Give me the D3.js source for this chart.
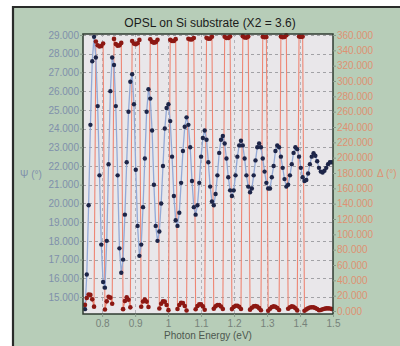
<!DOCTYPE html>
<html>
<head>
<meta charset="utf-8">
<script src="https://cdn.jsdelivr.net/npm/d3@7"></script>
<style>
  html, body { margin: 0; padding: 0; background: #ffffff; }
  svg { display: block; font-family: "Liberation Sans", Arial, sans-serif; }
</style>
</head>
<body>
<svg id="chart" width="400" height="346"></svg>
<script>
// Photon energy of each measured point (eV)
const energy = [
  0.748, 0.7535, 0.759, 0.7645, 0.770, 0.7755, 0.781, 0.7865, 0.792, 0.7975,
  0.803, 0.8085, 0.814, 0.8195, 0.825, 0.8305, 0.836, 0.8415, 0.847, 0.8525,
  0.858, 0.8635, 0.869, 0.8745, 0.880, 0.8855, 0.891, 0.8965, 0.902, 0.9075,
  0.913, 0.9185, 0.924, 0.9295, 0.935, 0.9405, 0.946, 0.9515, 0.957, 0.9625,
  0.968, 0.9735, 0.979, 0.9845, 0.990, 0.9955, 1.001, 1.0065, 1.012, 1.0175,
  1.023, 1.0285, 1.034, 1.0395, 1.045, 1.0505, 1.056, 1.0615, 1.067, 1.0725,
  1.078, 1.0835, 1.089, 1.0945, 1.100, 1.1055, 1.111, 1.1165, 1.122, 1.1275,
  1.133, 1.1385, 1.144, 1.1495, 1.155, 1.1605, 1.166, 1.1715, 1.177, 1.1825,
  1.188, 1.1935, 1.199, 1.2045, 1.210, 1.2155, 1.221, 1.2265, 1.232, 1.2375,
  1.243, 1.2485, 1.254, 1.2595, 1.265, 1.2705, 1.276, 1.2815, 1.287, 1.2925,
  1.298, 1.3035, 1.309, 1.3145, 1.320, 1.3255, 1.331, 1.3365, 1.342, 1.3475,
  1.353, 1.3585, 1.364, 1.3695, 1.375, 1.3805, 1.386, 1.3915, 1.397, 1.4025,
  1.408, 1.4135, 1.419, 1.4245, 1.430, 1.4355, 1.441, 1.4465, 1.452, 1.4575,
  1.463, 1.4685, 1.474, 1.4795, 1.485, 1.4905, 1.496
];

// Psi (degrees), left axis
const psi = [
  14.35, 16.2, 19.9, 24.2, 27.6, 28.9, 27.8, 25.2, 21.5, 17.8,
  15.8, 15.5, 18.0, 22.1, 26.0, 27.8, 27.4, 25.2, 21.5, 17.6,
  16.3, 17.0, 19.4, 22.2, 24.9, 26.5, 26.9, 25.3, 21.8, 18.8,
  17.2, 17.8, 19.8, 22.4, 24.9, 26.1, 25.6, 23.9, 21.0, 18.8,
  18.0, 18.5, 20.0, 22.0, 24.0, 25.1, 25.3, 24.4, 22.5, 20.4,
  19.1, 18.8, 19.5, 21.1, 22.8, 24.1, 24.6, 24.2, 23.0, 21.2,
  19.8, 19.4, 19.9, 21.1, 22.5, 23.5, 23.9, 23.4, 22.2, 20.9,
  20.1, 19.9, 20.5, 21.5, 22.7, 23.4, 23.6, 23.2, 22.4, 21.4,
  20.7, 20.4, 20.7, 21.5, 22.5, 23.1, 23.35, 23.1, 22.4, 21.5,
  20.9, 20.6, 20.8, 21.5, 22.3, 23.0, 23.2, 23.0, 22.4, 21.7,
  21.1, 20.8, 20.8, 21.4, 22.0, 22.8, 23.1, 23.0, 22.5, 21.9,
  21.3, 20.9, 21.0, 21.5, 22.1, 22.7, 23.0, 22.9, 22.5, 21.9,
  21.4, 21.2, 21.25, 21.6, 22.1, 22.5, 22.68, 22.55, 22.25, 21.9,
  21.7, 21.65, 21.75, 21.9, 22.1, 22.2, 22.2
];

// Delta (degrees, 0-360), right axis
const delta = [
  8, 17, 21.6, 21, 15.2, 5.7, 351.5, 346.6, 345.0, 345.7,
  349, 2, 12.6, 18.6, 17.4, 9.5, 354.9, 348.1, 346.1, 346.5,
  349.7, 2.4, 13.1, 17.9, 14.7, 4.8, 352.2, 348.8, 348, 349.2,
  353.6, 5.5, 12.4, 15, 12.3, 5.2, 354.5, 351, 350, 350.7,
  353.7, 3.2, 9.4, 12.7, 12.2, 7.8, 1.1, 353.7, 352.1, 352.3,
  354.6, 2.6, 7.9, 10.8, 10.3, 6.5, 0.7, 355.2, 354.1, 354.3,
  356.1, 2.2, 6.4, 8.7, 8.6, 6.0, 1.7, 356.3, 355.1, 355.3,
  357.7, 2.9, 6.1, 7.8, 7.7, 5.9, 2.7, 357.8, 356.1, 356.2,
  358, 2.5, 5.2, 6.8, 6.8, 5.4, 2.7, 358.5, 356.7, 356.6,
  357.9, 1.8, 4.3, 6.0, 6.5, 5.7, 3.7, 1.0, 357.7, 357,
  357.4, 0.3, 3.0, 5.1, 6.0, 5.5, 3.9, 1.3, 357.9, 357,
  357.3, 359.6, 2.9, 5.0, 6.0, 5.4, 3.6, 0.8, 358, 357.5,
  357.9, 0.35, 2.1, 3.5, 4.6, 5.0, 4.8, 4.0, 2.6, 1.0,
  1.4, 2.3, 3.0, 3.4, 3.5, 3.2, 2.6
];

const energyTicks = [0.8, 0.9, 1.0, 1.1, 1.2, 1.3, 1.4, 1.5];
const energyLabels = ["0.8", "0.9", "1", "1.1", "1.2", "1.3", "1.4", "1.5"];
const psiTicks = [15, 16, 17, 18, 19, 20, 21, 22, 23, 24, 25, 26, 27, 28, 29];
const deltaTicks = [0, 20, 40, 60, 80, 100, 120, 140, 160, 180, 200, 220, 240, 260, 280, 300, 320, 340, 360];

const titleText = "OPSL on Si substrate (X2 = 3.6)";
const xTitle = "Photon Energy (eV)";
const psiTitle = "Ψ (°)";
const deltaTitle = "Δ (°)";

const W = 400, H = 346;
const plot = { left: 83, right: 333, top: 34, bottom: 314 };

const svg = d3.select("#chart");

// panel background and frame
svg.append("rect").attr("x", 13).attr("y", 7).attr("width", W - 13).attr("height", H - 7)
  .attr("fill", "#b7cdb8");
svg.append("path").attr("d", `M13,${H} V7 H${W}`)
  .attr("fill", "none").attr("stroke", "#2a2c2a").attr("stroke-width", 2.2);

const x = d3.scaleLinear().domain([0.742, 1.5]).range([plot.left, plot.right]);
const yL = d3.scaleLinear().domain([14.092, 29.053]).range([plot.bottom, plot.top]);
const yR = d3.scaleLinear().domain([-3.9, 361.3]).range([plot.bottom, plot.top]);

// plot area
svg.append("rect")
  .attr("x", plot.left).attr("y", plot.top)
  .attr("width", plot.right - plot.left).attr("height", plot.bottom - plot.top)
  .attr("fill", "#e9e7ea");

// dashed grid
const grid = svg.append("g").attr("fill", "none");
grid.selectAll("line.h").data(psiTicks).join("line")
  .attr("x1", plot.left).attr("x2", plot.right)
  .attr("y1", d => Math.round(yL(d)) + 0.5).attr("y2", d => Math.round(yL(d)) + 0.5)
  .attr("stroke", "#a2a2a6").attr("stroke-width", 1).attr("stroke-dasharray", "3,3");
grid.selectAll("line.v").data(energyTicks.slice(0, -1)).join("line")
  .attr("y1", plot.top).attr("y2", plot.bottom)
  .attr("x1", d => Math.round(x(d)) + 0.5).attr("x2", d => Math.round(x(d)) + 0.5)
  .attr("stroke", "#b4b2b8").attr("stroke-width", 1).attr("stroke-dasharray", "3,3");

const clip = svg.append("clipPath").attr("id", "plotClip").append("rect")
  .attr("x", plot.left).attr("y", plot.top - 3)
  .attr("width", plot.right - plot.left).attr("height", plot.bottom - plot.top + 6);

const pts = energy.map((e, i) => ({ e, psi: psi[i], delta: delta[i] }));
const marks = svg.append("g").attr("clip-path", "url(#plotClip)");

// Delta line
marks.append("path").datum(pts)
  .attr("fill", "none").attr("stroke", "#ee8674").attr("stroke-width", 1.1)
  .attr("d", d3.line().x(d => x(d.e)).y(d => yR(d.delta)));

// Psi line
marks.append("path").datum(pts)
  .attr("fill", "none").attr("stroke", "#93a9d6").attr("stroke-width", 1.3)
  .attr("d", d3.line().x(d => x(d.e)).y(d => yL(d.psi)));

// Delta points
marks.append("g").selectAll("circle").data(pts).join("circle")
  .attr("cx", d => x(d.e)).attr("cy", d => yR(d.delta)).attr("r", 2.3)
  .attr("fill", "#8c1813");

// Psi points
marks.append("g").selectAll("circle").data(pts).join("circle")
  .attr("cx", d => x(d.e)).attr("cy", d => yL(d.psi)).attr("r", 2.2)
  .attr("fill", "#1d2548");

// plot border
svg.append("rect")
  .attr("x", plot.left).attr("y", plot.top)
  .attr("width", plot.right - plot.left).attr("height", plot.bottom - plot.top)
  .attr("fill", "none").attr("stroke", "#2f3b31").attr("stroke-width", 1.5);

const fmt3 = d3.format(".3f");

// left axis (Psi)
const axL = svg.append("g").attr("transform", `translate(${plot.left},0)`)
  .call(d3.axisLeft(yL).tickValues(psiTicks).tickFormat(fmt3).tickSize(3).tickPadding(1));
axL.select(".domain").remove();
axL.selectAll(".tick line").attr("stroke", "#8a9a8c");
axL.selectAll(".tick text").attr("fill", "#7f90ab").attr("font-size", 10)
  .attr("font-family", "'Liberation Sans', Arial, sans-serif");

// right axis (Delta)
const axR = svg.append("g").attr("transform", `translate(${plot.right},0)`)
  .call(d3.axisRight(yR).tickValues(deltaTicks).tickFormat(fmt3).tickSize(3).tickPadding(1));
axR.select(".domain").remove();
axR.selectAll(".tick line").attr("stroke", "#8a9a8c");
axR.selectAll(".tick text").attr("fill", "#de9272").attr("font-size", 10)
  .attr("font-family", "'Liberation Sans', Arial, sans-serif");

// bottom axis (energy)
const axB = svg.append("g").attr("transform", `translate(0,${plot.bottom})`)
  .call(d3.axisBottom(x).tickValues(energyTicks).tickFormat((d, i) => energyLabels[i]).tickSize(3).tickPadding(3));
axB.select(".domain").remove();
axB.selectAll(".tick line").attr("stroke", "#8a9a8c");
axB.selectAll(".tick text").attr("fill", "#76827a").attr("font-size", 10)
  .attr("font-family", "'Liberation Sans', Arial, sans-serif");

// titles
svg.append("text").attr("x", 210).attr("y", 26.5).attr("text-anchor", "middle")
  .attr("font-size", 12).attr("fill", "#1b1b1b").text(titleText);
svg.append("text").attr("x", 208).attr("y", 339).attr("text-anchor", "middle")
  .attr("font-size", 10).attr("fill", "#4d574f").text(xTitle);
svg.append("text").attr("x", 20).attr("y", 178).attr("font-size", 10)
  .attr("fill", "#7f90ab").text(psiTitle);
svg.append("text").attr("x", 377).attr("y", yR(180) + 3.5).attr("font-size", 10)
  .attr("fill", "#de9272").text(deltaTitle);
</script>
</body>
</html>
